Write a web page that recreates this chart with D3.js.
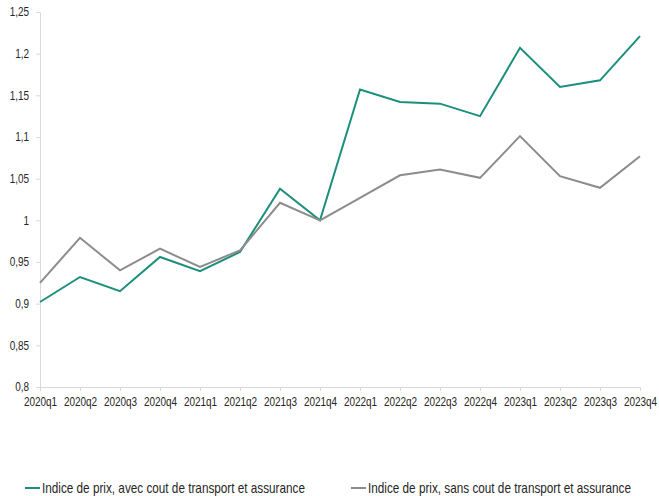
<!DOCTYPE html>
<html>
<head>
<meta charset="utf-8">
<script src="https://cdn.jsdelivr.net/npm/d3@7"></script>
<style>
  html, body { margin: 0; padding: 0; background: #fff; }
  svg { display: block; font-family: "Liberation Sans", Arial, sans-serif; }
</style>
</head>
<body>
<svg id="chart" width="659" height="496"></svg>
<script>
// Quarters shown on the x axis
const quarters = ["2020q1","2020q2","2020q3","2020q4","2021q1","2021q2","2021q3","2021q4",
                  "2022q1","2022q2","2022q3","2022q4","2023q1","2023q2","2023q3","2023q4"];

// Price index including transport and insurance cost
const avecCout = [0.902,0.932,0.915,0.956,0.939,0.962,1.038,1.000,
                  1.157,1.142,1.140,1.125,1.207,1.160,1.168,1.221];

// Price index excluding transport and insurance cost
const sansCout = [0.925,0.979,0.940,0.966,0.944,0.964,1.021,1.000,
                  1.027,1.054,1.061,1.051,1.101,1.053,1.039,1.077];

const yTicks = [0.8,0.85,0.9,0.95,1,1.05,1.1,1.15,1.2,1.25];

const seriesNames = ["Indice de prix, avec cout de transport et assurance",
                     "Indice de prix, sans cout de transport et assurance"];
const seriesColors = ["#1b8f7b", "#8c8c8c"];

const svg = d3.select("#chart");

const x = d3.scalePoint().domain(quarters).range([40, 640]);
const y = d3.scaleLinear().domain([0.8, 1.25]).range([387, 12]);

const fmt = d => String(d).replace(".", ",");

// Condensed look: squeeze each label horizontally, keeping its anchor point
function condense(sel, factor = 0.83) {
  sel.each(function () {
    const t = d3.select(this);
    const xv = +(t.attr("x") || 0);
    t.attr("x", xv / factor).attr("transform", `scale(${factor},1)`);
  });
}

// Y axis
const yAxis = svg.append("g")
  .attr("transform", "translate(40,0)")
  .call(d3.axisLeft(y).tickValues(yTicks).tickFormat(fmt).tickSizeOuter(0).tickSizeInner(4).tickPadding(7));
yAxis.select(".domain").attr("stroke", "#d9d9d9");
yAxis.selectAll(".tick line").attr("stroke", "#d9d9d9");
yAxis.selectAll(".tick text").attr("font-size", 12).attr("fill", "#262626").call(condense);
yAxis.attr("font-family", null);

// X axis
const xAxis = svg.append("g")
  .attr("transform", "translate(0,387)")
  .call(d3.axisBottom(x).tickSizeOuter(0).tickSizeInner(4).tickPadding(6));
xAxis.select(".domain").attr("stroke", "#d9d9d9");
xAxis.selectAll(".tick line").attr("stroke", "#d9d9d9");
xAxis.selectAll(".tick text").attr("font-size", 12).attr("fill", "#262626").call(condense);
xAxis.attr("font-family", null);

// Lines
const line = d3.line().x((d, i) => x(quarters[i])).y(d => y(d));
[avecCout, sansCout].forEach((vals, k) => {
  svg.append("path")
    .datum(vals)
    .attr("fill", "none")
    .attr("stroke", seriesColors[k])
    .attr("stroke-width", 2)
    .attr("stroke-linejoin", "miter")
    .attr("d", line);
});

// Legend
const legendX = [25, 351];
const legend = svg.append("g");
seriesNames.forEach((name, k) => {
  const g = legend.append("g").attr("transform", `translate(${legendX[k]},488)`);
  g.append("line").attr("x1", 0).attr("x2", 15).attr("y1", 0).attr("y2", 0)
    .attr("stroke", seriesColors[k]).attr("stroke-width", 2);
  g.append("text").attr("x", 17).attr("y", 0).attr("dy", "0.35em")
    .attr("font-size", 14).attr("fill", "#262626").text(name).call(condense, 0.84);
});
</script>
</body>
</html>
